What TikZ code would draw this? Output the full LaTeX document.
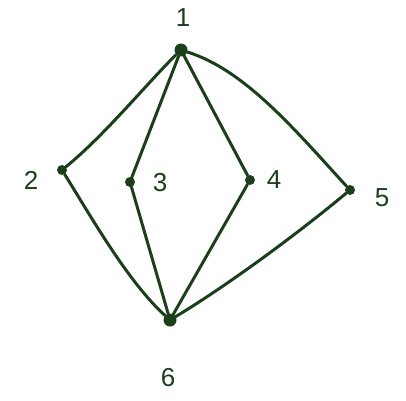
\documentclass[tikz,border=0pt]{standalone}
\usepackage{fontspec}
\setsansfont{Liberation Sans}
\definecolor{ink}{HTML}{1B3F1B}
\begin{document}
\begin{tikzpicture}[x=1pt,y=-1pt,
  vtx/.style={circle,fill=ink,inner sep=0pt,minimum size=10pt},
  lbl/.style={text=ink,font=\sffamily\fontsize{26}{26}\selectfont},
  edge/.style={draw=ink,line width=3pt,line cap=round}]
\useasboundingbox (0,0) rectangle (406,400);
\node[vtx,minimum size=13pt] (n1) at (181,50) {};
\node[vtx] (n2) at (62,170) {};
\node[vtx] (n3) at (130,182) {};
\node[vtx] (n4) at (250,180) {};
\node[vtx] (n5) at (350,190) {};
\node[vtx,minimum size=13pt] (n6) at (170,320) {};
\node[lbl] (l1) at (183,18) {1};
\node[lbl] (l2) at (31,180) {2};
\node[lbl] (l3) at (160,183) {3};
\node[lbl] (l4) at (274,180) {4};
\node[lbl] (l5) at (382,198) {5};
\node[lbl] (l6) at (168,378) {6};
\draw[edge] (n1) .. controls (150,80) and (105,135) .. (n2);
\draw[edge] (n1) -- (n3);
\draw[edge] (n1) -- (n4);
\draw[edge] (n1) .. controls (245,70) and (295,130) .. (n5);
\draw[edge] (n2) .. controls (90,215) and (128,282) .. (n6);
\draw[edge] (n3) -- (n6);
\draw[edge] (n4) -- (n6);
\draw[edge] (n5) .. controls (290,240) and (220,290) .. (n6);
\end{tikzpicture}
\end{document}
